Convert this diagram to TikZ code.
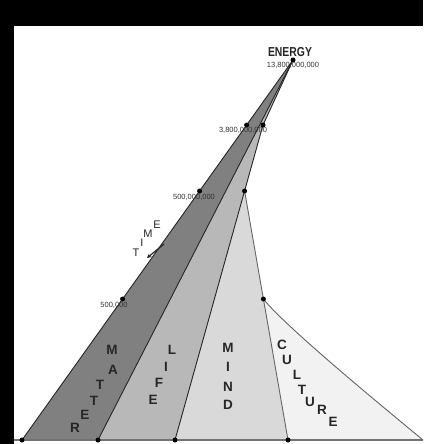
\documentclass[tikz,border=0pt]{standalone}
\usepackage{fontspec}
\setmainfont{Liberation Sans}
\usetikzlibrary{arrows.meta}
\definecolor{matterc}{gray}{0.50}
\definecolor{lifec}{gray}{0.72}
\definecolor{mindc}{gray}{0.85}
\definecolor{culturec}{gray}{0.95}
\definecolor{inkc}{gray}{0.15}
\tikzset{
  edge/.style={draw=inkc, line width=0.9pt},
  softedge/.style={draw=black!60, line width=0.9pt},
  dotm/.style={circle, fill=black, inner sep=0pt, minimum size=5pt},
  yr/.style={font=\fontsize{7.5}{8}\selectfont, text=black!80, inner sep=0pt},
  bigl/.style={font=\bfseries\fontsize{13.5}{14}\selectfont, text=inkc, inner sep=0pt},
  tl/.style={font=\fontsize{11}{11}\selectfont, text=inkc, inner sep=0pt}
}
\begin{document}
\begin{tikzpicture}[x=1pt,y=-1pt]
\useasboundingbox (0,0) rectangle (423,444);
\fill[white] (0,0) rectangle (423,444);
% frame
\fill[black] (0,0) rectangle (423,26);
\fill[black] (0,0) rectangle (14,444);
% key points
\coordinate (A) at (293,60);
\coordinate (B1) at (22,440);
\coordinate (B2) at (98,440);
\coordinate (B3) at (175,440);
\coordinate (B4) at (288,440);
\coordinate (B5) at (423,440);
\coordinate (Ls) at (263,125);
\coordinate (Ms) at (244.6,191);
\coordinate (Cs) at (263.4,299);
\coordinate (D1) at (246.6,125);
\coordinate (D2) at (199.6,191);
\coordinate (D3) at (122.6,299);
% fills
\fill[culturec] (Cs) -- (B4) -- (B5) .. controls (372,398) and (284,325) .. (Cs) -- cycle;
\fill[mindc] (B3) -- (Ms) -- (B4) -- cycle;
\fill[lifec] (B2) -- (A) -- (Ls) -- (B3) -- cycle;
\fill[matterc] (B1) -- (A) -- (B2) -- cycle;
% baseline
\draw[draw=black!55, line width=1.2pt] (14,440) -- (B5);
% edges
\draw[edge] (B1) -- (A);
\draw[edge] (B2) -- (A);
\draw[edge] (A) -- (Ls) -- (B3);
\draw[softedge] (Ms) -- (B4);
\draw[softedge] (Cs) .. controls (284,325) and (372,398) .. (B5);
% dots
\node[dotm] (dA) at (A) {};
\node[dotm] (d1) at (B1) {};
\node[dotm] (d2) at (B2) {};
\node[dotm] (d3) at (B3) {};
\node[dotm] (d4) at (B4) {};
\node[dotm] (dL) at (Ls) {};
\node[dotm] (dM) at (Ms) {};
\node[dotm] (dC) at (Cs) {};
\node[dotm] (e1) at (D1) {};
\node[dotm] (e2) at (D2) {};
\node[dotm] (e3) at (D3) {};
% year labels
\node[font=\bfseries\fontsize{13}{13}\selectfont, inner sep=0pt, text=inkc] (energy) at (290,52) {\scalebox{0.8}[1]{ENERGY}};
\node[yr] (y1) at (293,65) {13,800,000,000};
\node[yr] (y2) at (243,130) {3,800,000,000};
\node[yr] (y3) at (194,197) {500,000,000};
\node[yr] (y4) at (114,305) {500,000};
% time
\node[tl] (t1) at (136,253) {T};
\node[tl] (t2) at (142,243) {I};
\node[tl] (t3) at (148,234) {M};
\node[tl] (t4) at (157,225) {E};
\coordinate (ta) at (164,244);
\coordinate (tb) at (147,258);
\draw[inkc, line width=1.2pt, -{Stealth[length=4.5pt,width=4.5pt]}] (ta) -- (tb);
% MATTER
\node[bigl] (m1) at (112,350) {M};
\node[bigl] (m2) at (113,370) {A};
\node[bigl] (m3) at (100,385) {T};
\node[bigl] (m4) at (94,401) {T};
\node[bigl] (m5) at (85,415) {E};
\node[bigl] (m6) at (75,428) {R};
% LIFE
\node[bigl] (l1) at (172,350) {L};
\node[bigl] (l2) at (166,367) {I};
\node[bigl] (l3) at (159,383) {F};
\node[bigl] (l4) at (153,400) {E};
% MIND
\node[bigl] (n1) at (228,348) {M};
\node[bigl] (n2) at (228,367) {I};
\node[bigl] (n3) at (228,387) {N};
\node[bigl] (n4) at (228,405) {D};
% CULTURE
\node[bigl] (c1) at (282,345) {C};
\node[bigl] (c2) at (287,360) {U};
\node[bigl] (c3) at (297,375) {L};
\node[bigl] (c4) at (302,390) {T};
\node[bigl] (c5) at (310,402) {U};
\node[bigl] (c6) at (322,410) {R};
\node[bigl] (c7) at (333,422) {E};
\end{tikzpicture}
\end{document}
